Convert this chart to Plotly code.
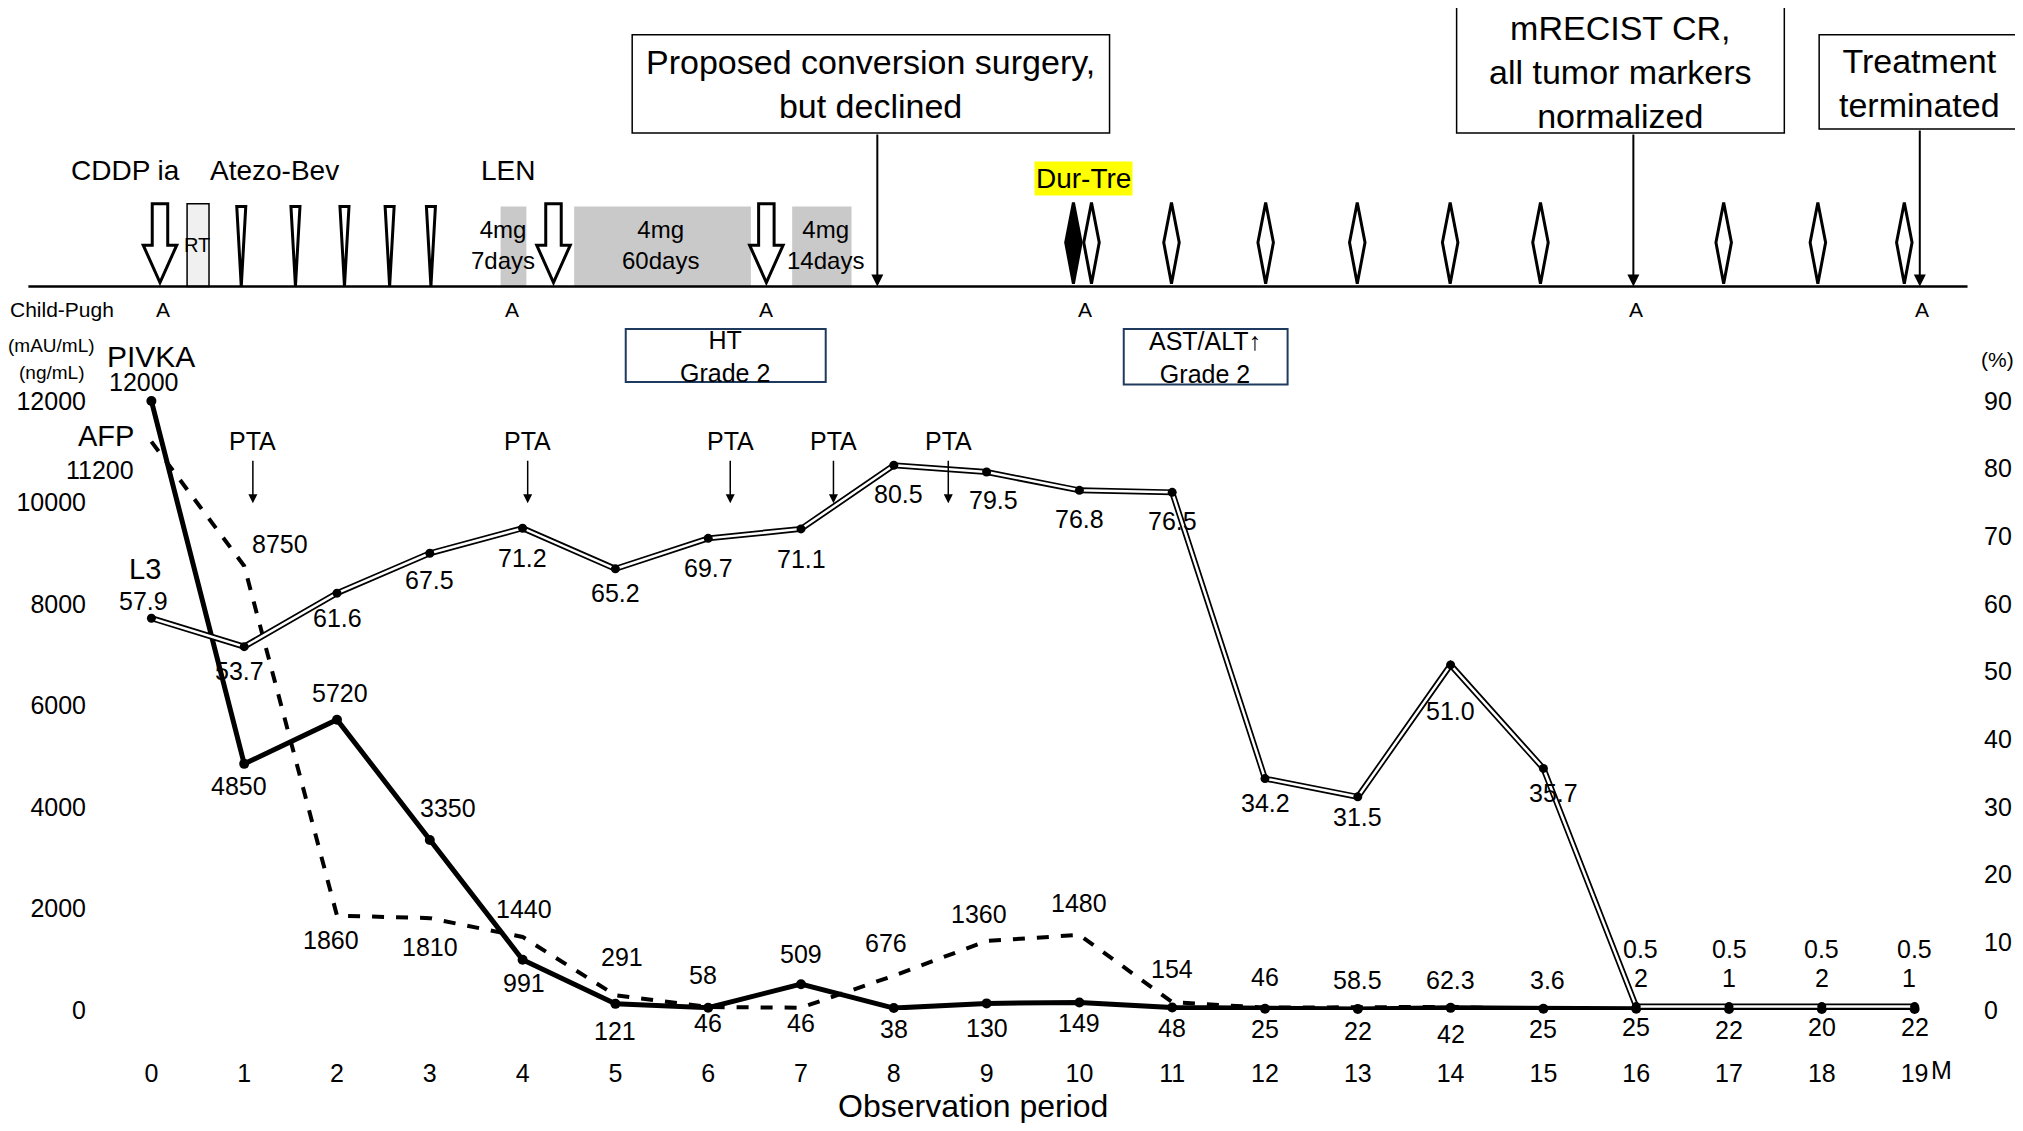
import plotly.graph_objects as go

months = list(range(20))
pivka = [12000, 4850, 5720, 3350, 991, 121, 46, 509, 38, 130, 149, 48, 25, 22, 42, 25, 25, 22, 20, 22]
afp = [11200, 8750, 1860, 1810, 1440, 291, 58, 46, 676, 1360, 1480, 154, 46, 58.5, 62.3, 3.6, 2, 1, 2, 1]
l3 = [57.9, 53.7, 61.6, 67.5, 71.2, 65.2, 69.7, 71.1, 80.5, 79.5, 76.8, 76.5, 34.2, 31.5, 51.0, 35.7, 0.5, 0.5, 0.5, 0.5]
pivka_txt = [str(v) for v in pivka]
afp_txt = ["11200", "8750", "1860", "1810", "1440", "291", "58", "46", "676", "1360", "1480", "154", "46",
           "58.5", "62.3", "3.6", "2", "1", "2", "1"]
l3_txt = ["%.1f" % v for v in l3]

# label offsets (screen px of the reference, dx, dy up)
pivka_off = [(-6, 15), (-4, -17), (2, 21), (14, 25), (1, -18), (0, -21), (0, -12), (0, 23), (0, -16), (0, -19),
             (0, -16), (0, -16), (0, -16), (0, -17), (0, -20), (0, -16), (0, -14), (0, -16), (0, -14), (0, -14)]
afp_off = [(-40, -22), (28, 17), (-5, -19), (0, -22), (1, 22), (5, 30), (-4, 25), (0, -12), (-6, 25), (-6, 21),
           (0, 25), (0, 26), (0, 24), (0, 21), (0, 21), (3, 23), (4, 25), (0, 25), (0, 25), (-4, 25)]
l3_off = [(-6, 13), (-4, -19), (0, -19), (0, -21), (0, -23), (0, -19), (0, -23), (0, -23), (4, -22), (5, -22),
          (0, -22), (0, -22), (0, -19), (0, -16), (0, -36), (8, -19), (3, 45), (0, 45), (0, 45), (0, 45)]

K = 2023 / 1568
M = 8  # page margin of the html body
W, H = 2023 - 2 * M, 1131 - 2 * M
L, R, T, B = 97, 54, 393, 113
PW, PH = W - L - R, H - T - B
FONT = "Liberation Sans"


def X(d):
    return (d * K - M - L) / PW


def Y(d):
    return (H - B - (d * K - M)) / PH


fig = go.Figure()
fig.add_trace(go.Scatter(x=months, y=afp, mode="lines", line=dict(color="black", width=4, dash="dash")))
fig.add_trace(go.Scatter(x=months, y=pivka, mode="lines+markers", line=dict(color="black", width=5),
                         marker=dict(size=10, color="black")))
fig.add_trace(go.Scatter(x=months, y=l3, yaxis="y2", mode="lines", line=dict(color="black", width=6)))
fig.add_trace(go.Scatter(x=months, y=l3, yaxis="y2", mode="lines", line=dict(color="white", width=2.5)))
fig.add_trace(go.Scatter(x=months, y=l3, yaxis="y2", mode="markers", marker=dict(size=9, color="black")))

ann = []
for xs, ys, txt, off, yr in [(months, pivka, pivka_txt, pivka_off, "y"), (months, afp, afp_txt, afp_off, "y"),
                             (months, l3, l3_txt, l3_off, "y2")]:
    for x, y, t, (dx, dy) in zip(xs, ys, txt, off):
        ann.append(dict(x=x, y=y, xref="x", yref=yr, text=t, showarrow=False, xshift=dx * K, yshift=dy * K,
                        xanchor="center", yanchor="middle", font=dict(size=25)))


def txt(x, y, t, size=22, **kw):
    ann.append(dict(x=X(x), y=Y(y), xref="paper", yref="paper", text=t, showarrow=False,
                    xanchor="center", yanchor="middle", font=dict(size=size, color="black"), **kw))


shapes = []


def path(p, fill="white", w=3, color="black"):
    s = "M " + " L ".join("%f,%f" % (X(a), Y(b)) for a, b in p) + " Z"
    shapes.append(dict(type="path", path=s, xref="paper", yref="paper", fillcolor=fill,
                       line=dict(color=color, width=w)))


def rect(x0, y0, x1, y1, fill="white", w=1.5, color="black"):
    shapes.append(dict(type="rect", x0=X(x0), x1=X(x1), y0=Y(y1), y1=Y(y0), xref="paper", yref="paper",
                       fillcolor=fill, line=dict(color=color, width=w), layer="below"))


def arrow(x, y0, y1, w=2):
    ann.append(dict(x=X(x), y=Y(y1), xref="paper", yref="paper", ax=0, ay=-(y1 - y0) * K, text="",
                    showarrow=True, arrowhead=2, arrowsize=1.2, arrowwidth=w, arrowcolor="black"))


# timeline
shapes.append(dict(type="line", x0=X(22), x1=X(1525), y0=Y(222), y1=Y(222), xref="paper", yref="paper",
                   line=dict(color="black", width=2.5)))
txt(48, 240, "Child-Pugh", 21)
for a in [126, 397, 594, 841, 1268, 1490]:
    txt(a, 240, "A", 21)
txt(97, 132, "CDDP ia", 28)
txt(213, 132, "Atezo-Bev", 28)
txt(394, 132, "LEN", 28)
txt(840, 138, "Dur-Tre", 28, bgcolor="#ffff00")

rect(145, 158, 162, 222, fill="#f0f0f0", w=1.5)
txt(153, 190, "RT", 20)
for x0, x1 in [(388, 408), (445, 582), (614, 660)]:
    rect(x0, 160, x1, 222, fill="#c9c9c9", w=0)
txt(390, 190, "4mg<br>7days", 24)
txt(512, 190, "4mg<br>60days", 24)
txt(640, 190, "4mg<br>14days", 24)

for a in [124, 429, 594]:
    path([(a - 6, 158), (a + 6, 158), (a + 6, 190), (a + 13, 190), (a, 219), (a - 13, 190), (a - 6, 190)])
for a in [187, 229, 267, 302, 334]:
    path([(a - 3.5, 160), (a + 3.5, 160), (a, 222)])
for i, a in enumerate([832, 846, 908, 981, 1052, 1124, 1194, 1336, 1409, 1476]):
    path([(a, 157), (a + 6, 188), (a, 220), (a - 6, 188)], fill="black" if i == 0 else "white")

arrow(680, 103, 222)
arrow(1266, 103, 222)
arrow(1488, 100, 222)

rect(490, 27, 860, 103)
txt(675, 65, "Proposed conversion surgery,<br>but declined", 34)
rect(1129, 1, 1383, 103)
txt(1256, 56, "mRECIST CR,<br>all tumor markers<br>normalized", 34)
rect(1410, 27, 1565, 100)
txt(1488, 64, "Treatment<br>terminated", 34)
rect(485, 255, 640, 296, color="#1f3a5f", w=2)
txt(562, 276, "HT<br>Grade 2", 25)
rect(871, 255, 998, 298, color="#1f3a5f", w=2)
txt(934, 277, "AST/ALT↑<br>Grade 2", 25)

txt(40, 268, "(mAU/mL)", 19)
txt(40, 289, "(ng/mL)", 19)
txt(117, 276, "PIVKA", 30)
txt(82, 338, "AFP", 29)
txt(112, 441, "L3", 29)
txt(1548, 279, "(%)", 21)

for a in [196, 409, 566, 646, 735]:
    txt(a, 342, "PTA", 25)
    arrow(a, 356, 390, w=1.5)

txt(1505, 829, "M", 25)
txt(754, 857, "Observation period", 32)

fig.update_layout(
    width=W, height=H, margin=dict(l=L, r=R, t=T, b=B),
    paper_bgcolor="white", plot_bgcolor="white", showlegend=False,
    font=dict(family=FONT, color="black", size=25),
    xaxis=dict(range=[-0.5, 19.5], tickvals=months, showgrid=False, zeroline=False, showline=False,
               automargin=False, ticks="", ticklabelstandoff=46, tickfont=dict(size=25)),
    yaxis=dict(range=[0, 12000], dtick=2000, tickformat="d", showgrid=False, zeroline=False, showline=False,
               automargin=False, ticks="", ticklabelstandoff=18, tickfont=dict(size=25)),
    yaxis2=dict(range=[0, 90], dtick=10, overlaying="y", side="right", showgrid=False, zeroline=False,
                automargin=False, showline=False, ticks="", ticklabelstandoff=22, tickfont=dict(size=25)),
    annotations=ann, shapes=shapes,
)
for tr in fig.data:
    tr.cliponaxis = False
fig.write_html("out.html")
